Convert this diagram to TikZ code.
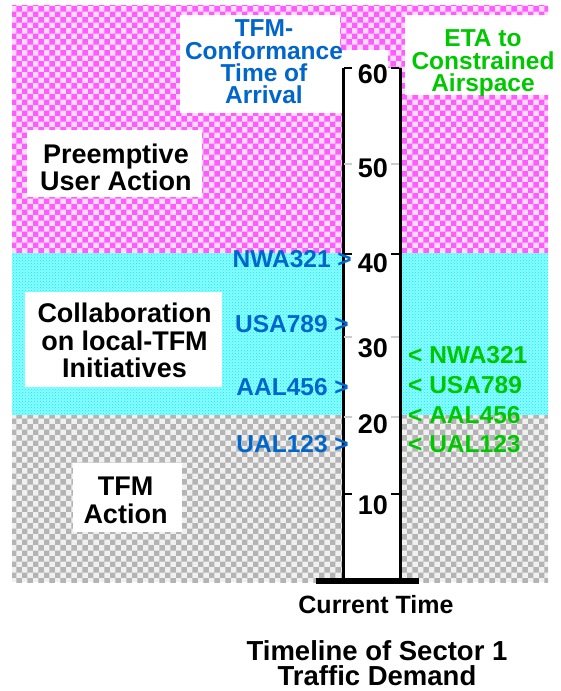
\documentclass[tikz,border=0pt]{standalone}
\usepackage{fontspec}
\setmainfont{Liberation Sans}
\usetikzlibrary{patterns}
\definecolor{tfmblue}{HTML}{0066CC}
\definecolor{etagreen}{HTML}{00C800}
\definecolor{pinkbase}{HTML}{FFDCFF}
\definecolor{pinkdot}{HTML}{FF5CFF}
\definecolor{cyanbase}{HTML}{8CFCFF}
\definecolor{cyandot}{HTML}{00F4FF}
\definecolor{graybase}{HTML}{F0F0F0}
\definecolor{graydot}{HTML}{B4B4B4}
\tikzset{zonelabel/.style={font=\bfseries\fontsize{27}{27.5}\selectfont,align=center,inner sep=0pt},headblue/.style={font=\bfseries\fontsize{24.5}{22.4}\selectfont,align=center,text=tfmblue,inner sep=0pt},headgreen/.style={headblue,text=etagreen},flightin/.style={font=\bfseries\fontsize{24.5}{24}\selectfont,text=tfmblue,anchor=base east,inner sep=0pt},flightout/.style={flightin,text=etagreen,anchor=base west},ticklabel/.style={font=\bfseries\fontsize{27}{27}\selectfont,anchor=base,inner sep=0pt},barline/.style={line width=3pt},tickmark/.style={line width=2pt}}

\begin{document}
\begin{tikzpicture}[x=1pt,y=-1pt]
\useasboundingbox (0,0) rectangle (560,691);
% action bands
\foreach \top/\bot/\base/\dot/\pat in {5/253/pinkbase/pinkdot/checkerboard,253/415/cyanbase/cyandot/crosshatch dots,415/582/graybase/graydot/checkerboard}{
  \fill[\base] (12,\top) rectangle (548,\bot);
  \fill[pattern=\pat,pattern color=\dot] (12,\top) rectangle (548,\bot);
}
% white label boxes
\fill[white] (27,130) rectangle (202,197);
\fill[white] (25,292) rectangle (222,387);
\fill[white] (73,463) rectangle (182,532);
\fill[white] (180,15) rectangle (340,113);
\fill[white] (337,50) rectangle (388,113);
\fill[white] (405,15) rectangle (552,95);
\node[zonelabel] (preempt) at (116,167.4) {Preemptive\\User Action};
\node[zonelabel] (collab) at (124.5,340.8) {Collaboration\\on local-TFM\\Initiatives};
\node[zonelabel] (tfmact) at (125.5,500.5) {TFM\\Action};
\node[headblue] (conf) at (264,61.9) {TFM-\\Conformance\\Time of\\Arrival};
\node[headgreen] (eta) at (483,63.3) {ETA to\\Constrained\\Airspace};
% timeline bar
\coordinate (tl) at (343,68);
\coordinate (tr) at (400,68);
\coordinate (bl) at (343,581);
\coordinate (br) at (400,581);
\fill[white] (tl) rectangle (br);
\draw[barline] (tl) -- (bl);
\draw[barline] (tr) -- (br);
\coordinate (nowl) at (316,581);
\coordinate (nowr) at (419,581);
\draw[line width=6pt] (nowl) -- (nowr);
\foreach \y/\c in {68/black,164/gray!40,254/black,337/gray!40,417/gray!40,494/black}{
  \draw[tickmark,\c] (344,\y) -- (352,\y);
  \draw[tickmark,\c] (391,\y) -- (399,\y);
}
\foreach \v/\b in {60/83,50/177,40/272,30/357,20/433,10/514}
  \node[ticklabel] (t\v) at (373,\b) {\v};
% arrivals
\node[flightin] (inNWA) at (352,267) {NWA321 >};
\node[flightin] (inUSA) at (349,332) {USA789 >};
\node[flightin] (inAAL) at (349,395) {AAL456 >};
\node[flightin] (inUAL) at (349,452) {UAL123 >};
\node[flightout] (outNWA) at (408,363) {< NWA321};
\node[flightout] (outUSA) at (408,393) {< USA789};
\node[flightout] (outAAL) at (408,423) {< AAL456};
\node[flightout] (outUAL) at (408,452) {< UAL123};
\node[font=\bfseries\fontsize{25}{25}\selectfont,anchor=base,inner sep=0pt] (now) at (376,613) {Current Time};
\node[font=\bfseries\fontsize{27.5}{25}\selectfont,align=center,inner sep=0pt] (title) at (377,663.5) {Timeline of Sector 1\\Traffic Demand};
\end{tikzpicture}
\end{document}
